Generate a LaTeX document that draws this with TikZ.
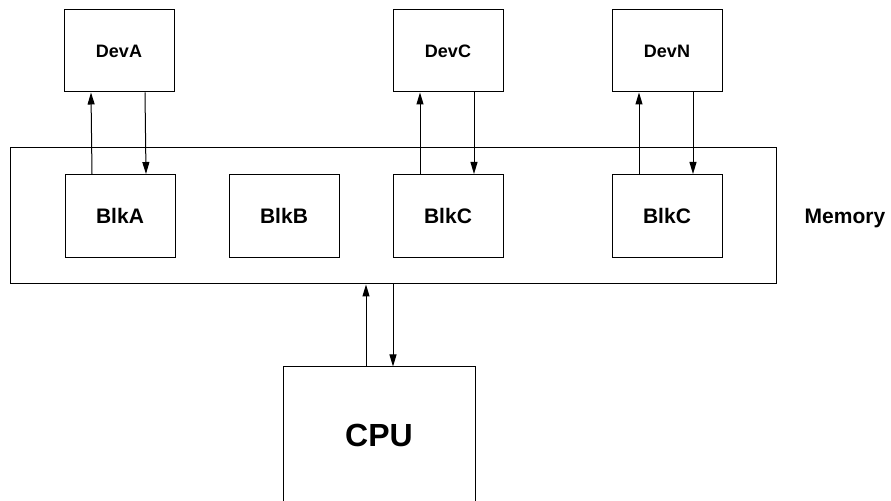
\documentclass[tikz,border=0pt]{standalone}
\usepackage{fontspec}
\setmainfont{Liberation Sans}
\usetikzlibrary{arrows.meta}

\begin{document}
\begin{tikzpicture}[x=0.5pt,y=-0.5pt,
    devbox/.style={draw, line width=0.5pt, minimum width=55pt, minimum height=41pt, font=\bfseries\fontsize{9}{11}\selectfont},
    blkbox/.style={draw, line width=0.5pt, minimum width=55pt, minimum height=41.5pt, font=\bfseries\fontsize{10.5}{12}\selectfont},
    arr/.style={line width=0.5pt, -{Triangle[length=6pt,width=3.5pt]}}]
    \clip (0,0) rectangle (891,501);
    % memory and its blocks
    \node[draw, line width=0.5pt, minimum width=383pt, minimum height=68pt] (mem) at (393,216) {};
    \node[font=\bfseries\fontsize{10.5}{12}\selectfont] (memlabel) at (845,218) {Memory};
                \node[blkbox] (blkA) at (120,216) {BlkA};
                \node[blkbox] (blkB) at (284,216) {BlkB};
                \node[blkbox] (blkC) at (448,216) {BlkC};
                \node[blkbox] (blkN) at (667,216) {BlkC};
    % devices
                \node[devbox] (devA) at (119,51) {DevA};
                \node[devbox] (devC) at (448,51) {DevC};
                \node[devbox] (devN) at (667,51) {DevN};
    % cpu, open at the bottom
    \node[draw, line width=0.5pt, minimum width=96pt, minimum height=68pt, font=\bfseries\fontsize{16}{19}\selectfont] (cpu) at (379,435) {CPU};
    % block <-> device
    \foreach \b/\d in {blkA/devA, blkC/devC, blkN/devN} {
        \draw[arr] ([xshift=-14pt]\b.north) -- ([xshift=-14pt]\d.south);
        \draw[arr] ([xshift=13pt]\d.south) -- ([xshift=13pt]\b.north);
    }
    % cpu <-> memory
    \draw[arr] ([xshift=-6.5pt]cpu.north) coordinate (cu) -- (cu |- mem.south);
    \draw[arr] ([xshift=7pt]cpu.north |- mem.south) coordinate (cd) -- (cd |- cpu.north);
\end{tikzpicture}
\end{document}
